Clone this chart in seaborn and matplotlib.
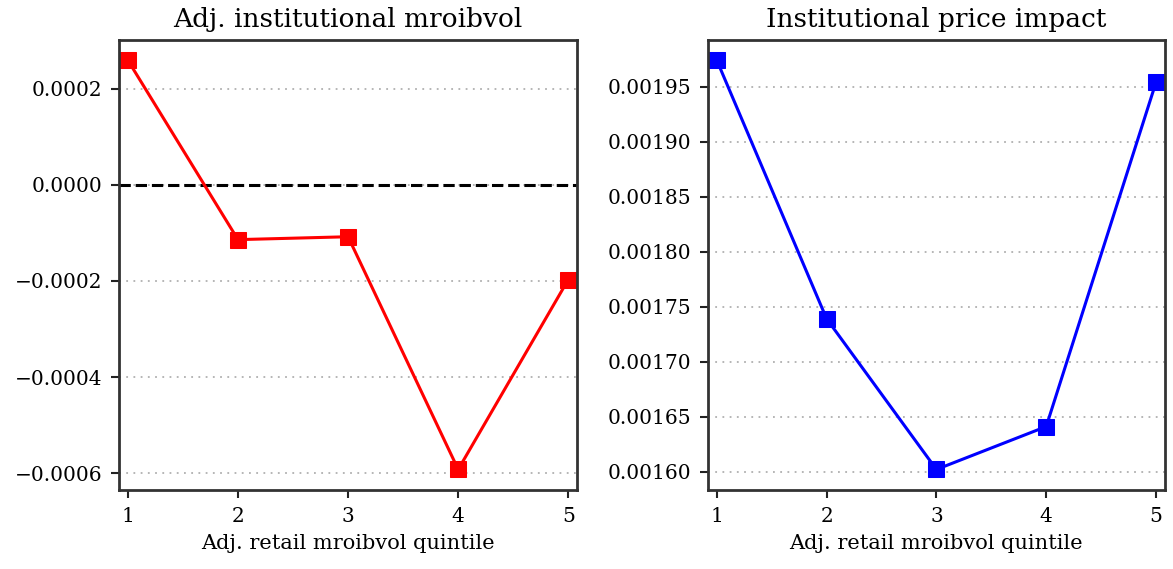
import matplotlib

matplotlib.use("Agg")
import matplotlib.pyplot as plt
import pandas as pd
import seaborn as sns

sns.set_theme(style="ticks")
plt.rcParams["font.family"] = ["DejaVu Serif"]

quintiles = [1, 2, 3, 4, 5]
inst_mroibvol = [0.000259, -0.000114, -0.000108, -0.000592, -0.000197]
inst_price_impact = [0.001974, 0.001739, 0.001602, 0.001641, 0.001954]

left_ticks = [-0.0006, -0.0004, -0.0002, 0.0, 0.0002]
right_ticks = [0.00160, 0.00165, 0.00170, 0.00175, 0.00180, 0.00185, 0.00190, 0.00195]


def draw(ax, y, color, title, yticks, fmt):
    df = pd.DataFrame({"q": quintiles, "v": y})
    sns.lineplot(data=df, x="q", y="v", ax=ax, color=color, marker="s",
                 markersize=12, markeredgecolor=color, linewidth=2.2)
    ax.margins(x=0.02, y=0.05)
    ax.set_xticks(quintiles)
    ax.set_yticks(yticks)
    ax.set_yticklabels([fmt.format(t).replace("-", "\u2212") for t in yticks])
    ax.yaxis.grid(True, linestyle=(0, (1, 3)), color="#b0b0b0", linewidth=1.3)
    ax.set_title(title, fontsize=19, color="black", pad=9)
    ax.set_xlabel("Adj. retail mroibvol quintile", fontsize=15, color="black", labelpad=6)
    ax.set_ylabel("")
    ax.tick_params(labelsize=14.5, length=6, width=1.5, color="#222222",
                   labelcolor="black", pad=6)
    for s in ax.spines.values():
        s.set_linewidth(2)
        s.set_color("#333333")


fig = plt.figure(figsize=(11.73, 5.69), dpi=100)
ax1 = fig.add_axes([0.1015, 0.139, 0.3905, 0.791])
ax2 = fig.add_axes([0.6036, 0.139, 0.3894, 0.791])

draw(ax1, inst_mroibvol, "red", "Adj. institutional mroibvol", left_ticks, "{:.4f}")
ax1.axhline(0, color="black", linestyle="--", linewidth=2.2, zorder=1)
draw(ax2, inst_price_impact, "blue", "Institutional price impact", right_ticks, "{:.5f}")

fig.savefig("out.png", dpi=100)
